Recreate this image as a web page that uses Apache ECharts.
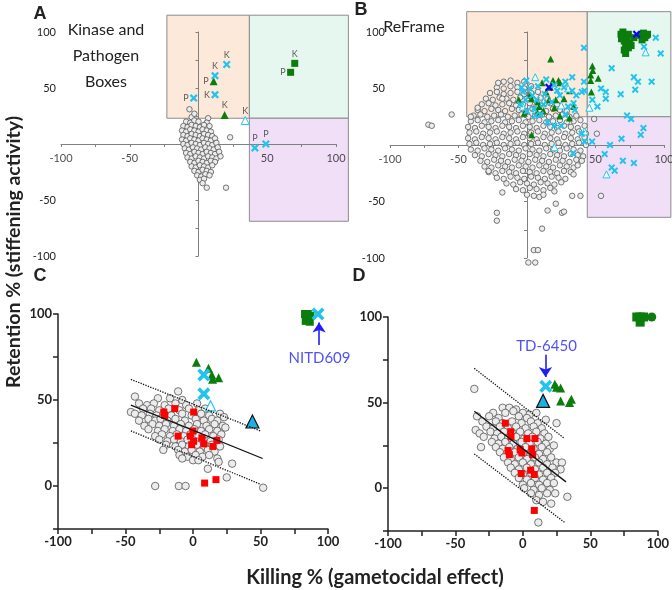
<!DOCTYPE html>
<html>
<head>
<meta charset="utf-8">
<script src="https://cdn.jsdelivr.net/npm/echarts@6/dist/echarts.min.js"></script>
<style>
  html, body { margin: 0; padding: 0; background: #fff; }
  #chart { width: 672px; height: 590px; }
</style>
</head>
<body>
<div id="chart"></div>
<script>
// ---------- data ----------
// x tick labels for the crossing axes of A and B (they sit on y = 0)
const crossTickX = [[-100, 0], [-50, 0], [50, 0], [100, 0]]

// panel A : Kinase and Pathogen Boxes
const aBoxOrange = [-23, 23, 37, 115]
const aBoxGreen = [37, 23, 109, 115]
const aBoxPurple = [37, -69, 109, 23]
const aGray = [
  [-6.6, 31], [-5, 24], [-3, 27], [7, 23],
  [-9, 20], [-6, 19], [-3, 21], [0, 20], [6, 19],
  [-11, 16], [-8, 15], [-5, 17], [-2, 16], [1, 15], [4, 17], [8, 16],
  [-12, 12], [-9, 11], [-6, 13], [-3, 12], [0, 11], [3, 13], [6, 12], [9, 11],
  [-11, 8], [-8, 7], [-5, 9], [-2, 8], [1, 7], [4, 9], [7, 8], [10, 7],
  [-12, 4], [-9, 3], [-6, 5], [-3, 4], [0, 3], [3, 5], [6, 4], [9, 3], [12, 5],
  [-11, 0], [-8, -1], [-5, 1], [-2, 0], [1, -1], [4, 1], [7, 0], [10, -1], [13, 1],
  [-10, -4], [-7, -5], [-4, -3], [-1, -4], [2, -5], [5, -3], [8, -4], [11, -5], [14, -3],
  [-9, -8], [-6, -9], [-3, -7], [0, -8], [3, -9], [6, -7], [9, -8], [12, -9], [15, -7],
  [-8, -12], [-5, -13], [-2, -11], [1, -12], [4, -13], [7, -11], [10, -12], [13, -13], [16, -11],
  [-6, -16], [-3, -17], [0, -15], [3, -16], [6, -17], [9, -15], [12, -16],
  [-5, -20], [-2, -21], [1, -19], [4, -20], [7, -21], [10, -19],
  [-3, -24], [0, -25], [3, -23], [6, -24], [9, -25],
  [-1, -28], [2, -29], [5, -27], [8, -28],
  [1, -32], [4, -31], [3, -35], [6, -39], [20, -39], [23, 6]
]
const aCyanX = [[20.5, 71], [12, 61], [12, 44], [-3.5, 41], [41, -3.5], [49, 0]]
const aGreenTri = [[11, 56], [19, 26]]
const aOpenTri = [[34, 21]]
const aGreenSq = [[70, 72], [67, 64]]
const aLabelTopK = [[20.5, 71], [12, 61], [70, 72], [19, 26], [34, 21]]
const aLabelLeftK = [[12, 44]]
const aLabelLeftP = [[-3.5, 41], [11, 56], [67, 64]]
const aLabelTopP = [[41, -3.5], [49, 0]]

// panel B : ReFrame
const bBoxOrange = [-44, 25, 44, 118]
const bBoxGreen = [44, 25, 105, 118]
const bBoxPurple = [44, -64, 105, 25]
const bGray = [
  [-17, 56], [-12, 57], [-7, 55], [-2, 56],
  [-22, 51], [-17, 50], [-12, 52], [-7, 51], [-2, 50], [3, 52],
  [-27, 46], [-22, 47], [-17, 45], [-12, 46], [-7, 47], [-2, 45], [3, 46], [8, 47],
  [-30, 41], [-25, 40], [-20, 42], [-15, 41], [-10, 40], [-5, 42], [0, 41], [5, 40], [10, 42], [15, 41],
  [-33, 36], [-28, 37], [-23, 35], [-18, 36], [-13, 37], [-8, 35], [-3, 36], [2, 37], [7, 35], [12, 36], [17, 37], [22, 36],
  [-36, 31], [-31, 30], [-26, 32], [-21, 31], [-16, 30], [-11, 32], [-6, 31], [-1, 30], [4, 32], [9, 31], [14, 30], [19, 32], [24, 31], [29, 30],
  [-39, 26], [-34, 27], [-29, 25], [-24, 26], [-19, 27], [-14, 25], [-9, 26], [-4, 27], [1, 25], [6, 26], [11, 27], [16, 25], [21, 26], [26, 27], [31, 25], [36, 26],
  [-41, 21], [-36, 22], [-31, 20], [-26, 21], [-21, 22], [-16, 20], [-11, 21], [-6, 22], [-1, 20], [4, 21], [9, 22], [14, 20], [19, 21], [24, 22], [29, 20], [34, 21], [39, 22],
  [-43, 16], [-38, 15], [-33, 17], [-28, 16], [-23, 15], [-18, 17], [-13, 16], [-8, 15], [-3, 17], [2, 16], [7, 15], [12, 17], [17, 16], [22, 15], [27, 17], [32, 16], [37, 15], [42, 17],
  [-42, 11], [-37, 12], [-32, 10], [-27, 11], [-22, 12], [-17, 10], [-12, 11], [-7, 12], [-2, 10], [3, 11], [8, 12], [13, 10], [18, 11], [23, 12], [28, 10], [33, 11], [38, 12], [43, 10],
  [-43, 6], [-38, 5], [-33, 7], [-28, 6], [-23, 5], [-18, 7], [-13, 6], [-8, 5], [-3, 7], [2, 6], [7, 5], [12, 7], [17, 6], [22, 5], [27, 7], [32, 6], [37, 5], [42, 7],
  [-42, 1], [-37, 2], [-32, 0], [-27, 1], [-22, 2], [-17, 0], [-12, 1], [-7, 2], [-2, 0], [3, 1], [8, 2], [13, 0], [18, 1], [23, 2], [28, 0], [33, 1], [38, 2], [43, 0],
  [-41, -4], [-36, -5], [-31, -3], [-26, -4], [-21, -5], [-16, -3], [-11, -4], [-6, -5], [-1, -3], [4, -4], [9, -5], [14, -3], [19, -4], [24, -5], [29, -3], [34, -4], [39, -5],
  [-38, -9], [-33, -10], [-28, -8], [-23, -9], [-18, -10], [-13, -8], [-8, -9], [-3, -10], [2, -8], [7, -9], [12, -10], [17, -8], [22, -9], [27, -10], [32, -8], [37, -9], [41, -10],
  [-34, -14], [-29, -15], [-24, -13], [-19, -14], [-14, -15], [-9, -13], [-4, -14], [1, -15], [6, -13], [11, -14], [16, -15], [21, -13], [26, -14], [31, -15], [36, -13], [40, -14],
  [-31, -19], [-26, -20], [-21, -18], [-16, -19], [-11, -20], [-6, -18], [-1, -19], [4, -20], [9, -18], [14, -19], [19, -20], [24, -18], [29, -19], [34, -20], [37, -18],
  [-28, -24], [-23, -25], [-18, -23], [-13, -24], [-8, -25], [-3, -23], [2, -24], [7, -25], [12, -23], [17, -24], [22, -25], [27, -23], [32, -24], [34, -26],
  [-22, -29], [-17, -30], [-12, -28], [-7, -29], [-2, -30], [3, -28], [8, -29], [13, -30], [18, -28], [23, -29], [28, -30],
  [-15, -34], [-10, -35], [-5, -33], [0, -34], [5, -35], [10, -33], [15, -34], [20, -35], [25, -33],
  [-8, -39], [-3, -40], [2, -38], [7, -39], [12, -40], [17, -38], [20, -41],
  [0, -44], [5, -45], [9, -46], [12, -44],
  // outliers
  [-55, 27], [-72, 18], [-69.5, 17], [-41, 25], [-36, 33], [-21, 55], [-18, 41], [-18, -42],
  [-22, -60], [-22, -67], [11, -74], [5, -93], [8, -93], [1, -104], [6, -104], [15, -58],
  [21, -52], [25.5, -60], [33, -45], [39, -45], [54, -45], [51, 10], [-28, -23], [49, 23], [27, -59]
]
const bCyanX = [
  [41.6, 86], [94, 95], [97.6, 81], [85.4, 87], [61.8, 68], [78, 60], [81, 56], [91, 56], [79, 49],
  [68.4, 45], [57.5, 47], [57.5, 41], [54, 50], [51.4, 34], [47.7, 40], [41.6, 56], [33, 60], [28, 56],
  [73, 26], [76, 23], [85, 15], [83, 9], [69, 5.6], [60.6, 0], [56.7, -8], [70, -14], [78, -16],
  [61.8, -20], [64, -22.7], [40, 10], [42, 3], [47.5, 3], [33.6, -7.4],
  [42, 48], [40, 47], [27, 51], [33, 48], [35, 31], [34, 37], [8, 52], [14, 58], [-0.5, 57],
  [-4, 51], [-3, 47], [-5, 36], [0, 30], [6, 26], [10, 27], [20, 17], [25, 17], [15, 20], [12, 36],
  [18, 38], [22, 48], [4, 44], [7, 40], [28, 27], [30, 34], [13, 45], [-1, 40], [2, 50], [5, 32],
  [36, 44], [20, 53], [24, 44]
]
const bGreenTri = [
  [17.3, 76], [19, 57], [23, 57], [24, 55], [17, 51], [14, 47], [2, 44], [-2, 28], [3.4, 41],
  [8, 38], [16, 40], [21, 40], [27, 41], [31, 48], [34, 34], [31, 24], [24, 25.6], [7.6, 29],
  [3.4, 9], [47.7, 70], [48, 66], [46.5, 62], [52, 59], [46.5, 57], [47, 47], [11, 55], [-6, 40],
  [9, 34], [12, 30], [20, 33]
]
const bOpenTri = [[6, 60], [86.6, 82], [58, -26], [20, -2], [45.5, 33], [25, 35], [12, 38], [30, 50], [-3, 34], [42, 12]]
const bGreenSq = [
  [68.6, 98], [70, 100], [72, 97], [74, 98], [69, 94], [71, 92], [73, 94], [75, 90], [72, 88],
  [74, 86], [71, 84], [76, 88], [83, 97], [85, 99], [87, 97], [88, 98], [86, 95], [84, 93], [78, 95], [72, 81]
]
const bBlueX = [[80, 98], [16, 51]]

// panel C
const cGray = [
  [-11, 55], [-43, 52], [-26, 51], [-17, 51], [-8, 50],
  [-40, 48], [-34, 47], [-29, 48], [-21, 47], [-13, 48], [-5, 47], [3, 48],
  [-46, 43], [-37, 45], [-31, 45], [-25, 44], [-18, 45], [-10, 44], [-3, 45], [4, 44], [9, 45],
  [-43, 42], [-38, 41], [-32, 42], [-27, 41], [-22, 42], [-16, 41], [-8, 42], [-1, 41], [6, 42], [12, 41], [20, 42],
  [-40, 38], [-33, 39], [-28, 38], [-24, 39], [-19, 38], [-13, 39], [-6, 38], [2, 39], [8, 38], [14, 39], [18, 38], [23, 40],
  [-36, 35], [-30, 36], [-25, 35], [-20, 36], [-14, 35], [-9, 36], [-3, 35], [3, 36], [10, 35], [16, 36], [22, 35],
  [-33, 33], [-26, 32], [-21, 33], [-15, 32], [-10, 33], [-5, 32], [1, 33], [6, 32], [12, 33], [18, 32], [24, 34],
  [-28, 29], [-23, 30], [-17, 29], [-12, 30], [-7, 29], [-2, 30], [4, 29], [9, 30], [15, 29], [21, 30],
  [-25, 27], [-19, 26], [-14, 27], [-9, 26], [-4, 27], [2, 26], [7, 27], [13, 26], [19, 27],
  [-20, 24], [-13, 23], [-8, 24], [-3, 23], [3, 24], [8, 23], [14, 24], [20, 23],
  [-22, 21], [-11, 21], [-6, 20], [-1, 21], [5, 20], [11, 21], [16, 20],
  [-10, 18], [-4, 17], [2, 18], [7, 17], [12, 18],
  [-8, 16], [0, 15], [4, 15], [18, 16], [19, 14],
  [29, 13], [11, 10], [25, 5],
  [-28, 0], [-10.5, 0], [-5.5, 0], [52, -1]
]
const cRed = [
  [-21.6, 43], [-21, 41], [-13.5, 45], [0.5, 43], [-11, 29], [-2, 29], [0, 32], [-1, 24],
  [6.6, 28], [8, 24.5], [14.7, 23], [17.7, 26.5], [8.6, 1.7], [17, 3.7], [0.5, 26]
]
const cGreenTri = [[2.5, 72], [11.5, 68.5], [14, 64.5], [14.5, 62], [19, 63]]
const cCyanX = [[8, 64.6], [8, 53.6], [92.6, 100]]
const cOpenTri = [[13, 46.6]]
const cBlueTri = [[44, 37.5]]
const cGreenSq = [[83, 100], [85, 97.5], [86.5, 95.5], [83.5, 96], [85, 100], [87, 99]]
const cFit = [[-46, 47], [51.6, 16]]
const cFitUpper = [[-46, 62], [50, 32]]
const cFitLower = [[-46, 32], [50, 1]]
const cArrow = [[93.4, 82], [93.4, 95]]
const cNote = [93.7, 74.4]

// panel D
const dGray = [
  [-36, 58],
  [-15, 47], [-10, 47], [-5, 46],
  [-22, 44], [-13, 44], [-7, 45], [0, 44], [5, 43], [10, 44],
  [-34, 42], [-25, 42], [-18, 41], [-3, 42], [3, 41], [17, 40],
  [-30, 39], [-20, 39], [-15, 38], [-8, 39], [-1, 38], [6, 39], [11, 38],
  [-35, 34], [-27, 36], [-22, 35], [-17, 36], [-11, 35], [-5, 36], [2, 35], [8, 36], [14, 35], [25, 38],
  [-32, 32], [-24, 33], [-19, 32], [-14, 33], [-8, 32], [-2, 33], [4, 32], [10, 33], [16, 32],
  [-29, 30], [-21, 29], [-16, 30], [-11, 29], [-5, 30], [1, 29], [7, 30], [13, 29], [19, 30],
  [-23, 27], [-18, 26], [-13, 27], [-7, 26], [-1, 27], [5, 26], [11, 27], [17, 26],
  [-31, 24], [-20, 24], [-15, 23], [-10, 24], [-4, 23], [2, 24], [8, 23], [14, 24], [20, 23], [23, 25],
  [-17, 21], [-12, 20], [-6, 21], [0, 20], [6, 21], [12, 20], [18, 21],
  [-14, 18], [-9, 17], [-3, 18], [3, 17], [9, 18], [15, 17], [21, 18],
  [-11, 15], [-6, 14], [0, 15], [6, 14], [12, 15], [18, 14], [25, 15], [29, 15],
  [-9, 12], [-3, 11], [3, 12], [9, 11], [15, 12], [22, 12], [28, 11],
  [-6, 9], [0, 8], [6, 9], [12, 8], [18, 9], [24, 9],
  [-3, 6], [3, 5], [9, 6], [15, 5], [21, 6],
  [0, 2], [6, 3], [12, 2], [18, 3], [23, 3],
  [1, 0], [8, -1], [14, 0], [20, -1],
  [6, -3], [12, -4], [18, -3], [24, -3],
  [33, -5], [10, -7], [15, -8], [21, -9], [11.5, -20]
]
const dRed = [
  [-13, 38], [-9, 33], [-8.8, 30], [3, 29], [9, 29], [-11, 22], [-10, 19.6], [-2, 22.6],
  [-0.7, 20.6], [6.6, 23], [7.3, 19.6], [-1.2, 8.6], [5.8, 10.5], [8.5, 8], [8.5, -13]
]
const dGreenTri = [[23.7, 60.7], [28, 58.6], [28, 51], [34.6, 50], [36, 52], [25, 59]]
const dCyanX = [[17, 59.5]]
const dBlueTri = [[15, 51]]
const dGreenSq = [[84.5, 100], [87, 100], [89.5, 100], [87, 97]]
const dGreenDot = [[95.6, 100]]
const dFit = [[-36, 45], [32, 3.7]]
const dFitUpper = [[-36, 70], [31, 29]]
const dFitLower = [[-36, 20], [31, -20]]
const dArrow = [[16.8, 78], [16.8, 65]]
const dNote = [17.6, 83]

// ---------- style ----------
const FONT = 'Lato, "Liberation Sans", sans-serif'
const CYAN = '#22c4ef'
const GREEN = '#0c7c0c'
const XPATH = 'path://M2,0 L5,3 L8,0 L10,2 L7,5 L10,8 L8,10 L5,7 L2,10 L0,8 L3,5 L0,2 Z'

// 四個面板的網格
const grids = [
  { left: 61, top: 32, width: 275, height: 224 },
  { left: 390, top: 32, width: 274, height: 226 },
  { left: 58, top: 314, width: 270, height: 215 },
  { left: 388, top: 317, width: 272, height: 214 }
]

// A/B : axes crossing at origin
function crossAxes(i) {
  const line = { color: '#808080', width: 1 }
  const common = {
    gridIndex: i, type: 'value', min: -100, max: 100, interval: 25, z: 3,
    axisLine: { onZero: true, lineStyle: line },
    axisTick: { length: 3, lineStyle: line },
    splitLine: { show: false },
    axisLabel: {
      fontFamily: FONT, fontSize: 11, color: '#222', margin: 5,
      formatter: v => (v % 50 === 0 && v !== 0 ? String(v) : '')
    }
  }
  const x = Object.assign({}, common, { axisLabel: { show: false } })
  return { x: x, y: Object.assign({}, common) }
}

// C/D : plain frame axes
function boxAxes(i) {
  const line = { color: '#222', width: 1.5 }
  const label = {
    fontFamily: FONT, fontSize: 13, fontWeight: 'bold', color: '#222', margin: 6,
    formatter: v => (v % 50 === 0 ? String(v) : '')
  }
  return {
    x: { gridIndex: i, type: 'value', min: -100, max: 100, interval: 25, z: 3,
      axisLine: { onZero: false, lineStyle: line }, axisTick: { length: 5, lineStyle: line },
      splitLine: { show: false }, axisLabel: label },
    y: { gridIndex: i, type: 'value', min: -25, max: 100, interval: 25, z: 3,
      axisLine: { onZero: false, lineStyle: line }, axisTick: { length: 5, lineStyle: line },
      splitLine: { show: false }, axisLabel: label }
  }
}

const axA = crossAxes(0)
const axB = crossAxes(1)
const axC = boxAxes(2)
const axD = boxAxes(3)

// 背景色塊
function box(i, rect, fill) {
  return {
    type: 'custom', xAxisIndex: i, yAxisIndex: i, clip: false, z: 1, silent: true,
    data: [rect],
    renderItem(params, api) {
      const p1 = api.coord([api.value(0), api.value(1)])
      const p2 = api.coord([api.value(2), api.value(3)])
      return {
        type: 'rect',
        shape: { x: p1[0], y: p2[1], width: p2[0] - p1[0], height: p1[1] - p2[1] },
        style: { fill: fill, stroke: '#8c8c8c', lineWidth: 1 }
      }
    }
  }
}

function dots(i, data, symbol, size, color, border, borderWidth, z) {
  return {
    type: 'scatter', xAxisIndex: i, yAxisIndex: i, clip: false, z: z || 4,
    symbol: symbol, symbolSize: size, data: data, silent: true,
    itemStyle: { color: color, borderColor: border || color, borderWidth: borderWidth || 0, opacity: 1 }
  }
}

function gray(i, data, size) {
  return dots(i, data, 'circle', size, '#ececec', '#555', 0.8, 4)
}

function line(i, data, type) {
  return {
    type: 'line', xAxisIndex: i, yAxisIndex: i, data: data, symbol: 'none', z: 5, silent: true,
    lineStyle: { color: '#111', width: 1.3, type: type || 'solid' }
  }
}

function letters(i, data, text, position) {
  return {
    type: 'scatter', xAxisIndex: i, yAxisIndex: i, data: data, symbolSize: 8, z: 6, silent: true,
    itemStyle: { color: 'transparent' },
    label: { show: true, formatter: text, position: position, distance: 1,
      fontFamily: FONT, fontSize: 9, color: '#333' }
  }
}

// x 軸刻度文字（A/B 的軸在 y = 0 上）
function tickLabels(i, data) {
  return {
    type: 'scatter', xAxisIndex: i, yAxisIndex: i, data: data, symbolSize: 1, z: 6, silent: true,
    itemStyle: { color: 'transparent' },
    label: { show: true, formatter: p => String(p.value[0]), position: 'bottom', distance: 8,
      fontFamily: FONT, fontSize: 11, color: '#222' }
  }
}

function arrow(i, pts, note, text) {
  return {
    type: 'scatter', xAxisIndex: i, yAxisIndex: i, data: [note], symbolSize: 1, z: 6, silent: true,
    itemStyle: { color: 'transparent' },
    label: { show: true, formatter: text, position: 'inside', fontFamily: FONT, fontSize: 15, color: '#2626ee' },
    markLine: {
      silent: true, symbol: ['none', 'arrow'], symbolSize: 10, animation: false, z: 7,
      label: { show: false },
      lineStyle: { color: '#1f1ff5', width: 1.6, type: 'solid' },
      data: [[{ coord: pts[0] }, { coord: pts[1] }]]
    }
  }
}

const series = [
  // A
  box(0, aBoxOrange, '#fde9d9'), box(0, aBoxGreen, '#e6f7ef'), box(0, aBoxPurple, '#f1dff8'),
  tickLabels(0, crossTickX),
  gray(0, aGray, 5.5),
  dots(0, aGreenSq, 'rect', 7, GREEN),
  dots(0, aGreenTri, 'triangle', 8, GREEN),
  dots(0, aOpenTri, 'triangle', 8, '#fff', CYAN, 1),
  dots(0, aCyanX, XPATH, 8, CYAN),
  letters(0, aLabelTopK, 'K', 'top'), letters(0, aLabelLeftK, 'K', 'left'),
  letters(0, aLabelLeftP, 'P', 'left'), letters(0, aLabelTopP, 'P', 'top'),
  // B
  box(1, bBoxOrange, '#fde9d9'), box(1, bBoxGreen, '#e6f7ef'), box(1, bBoxPurple, '#f1dff8'),
  tickLabels(1, crossTickX),
  gray(1, bGray, 5.5),
  dots(1, bGreenSq, 'rect', 7, GREEN),
  dots(1, bGreenTri, 'triangle', 7, GREEN),
  dots(1, bOpenTri, 'triangle', 7, '#fff', CYAN, 1),
  dots(1, bCyanX, XPATH, 7, CYAN),
  dots(1, bBlueX, XPATH, 8, '#0a0af0'),
  // C
  gray(2, cGray, 7.5),
  line(2, cFit), line(2, cFitUpper, 'dotted'), line(2, cFitLower, 'dotted'),
  dots(2, cRed, 'rect', 7, '#ff0000'),
  dots(2, cGreenTri, 'triangle', 9, GREEN),
  dots(2, cOpenTri, 'triangle', 10, '#fff', CYAN, 1.2),
  dots(2, cBlueTri, 'triangle', 13, '#1ab2e2', '#111', 1.2),
  dots(2, cGreenSq, 'rect', 8, GREEN),
  dots(2, cCyanX, XPATH, 13, CYAN),
  arrow(2, cArrow, cNote, 'NITD609'),
  // D
  gray(3, dGray, 7.5),
  line(3, dFit), line(3, dFitUpper, 'dotted'), line(3, dFitLower, 'dotted'),
  dots(3, dRed, 'rect', 7, '#ff0000'),
  dots(3, dGreenTri, 'triangle', 9, GREEN),
  dots(3, dBlueTri, 'triangle', 13, '#1ab2e2', '#111', 1.2),
  dots(3, dGreenSq, 'rect', 9, GREEN),
  dots(3, dGreenDot, 'circle', 9, GREEN),
  dots(3, dCyanX, XPATH, 13, CYAN),
  arrow(3, dArrow, dNote, 'TD-6450')
]

function txt(x, y, text, font, extra) {
  return Object.assign({
    type: 'text', x: x, y: y, silent: true, z: 10,
    style: { text: text, font: font, fill: '#222', textAlign: 'center', align: 'center',
      textVerticalAlign: 'middle', verticalAlign: 'middle', lineHeight: 26 }
  }, extra || {})
}

const chart = echarts.init(document.getElementById('chart'), null, { renderer: 'canvas' })
chart.setOption({
  animation: false,
  backgroundColor: '#fff',
  grid: grids,
  xAxis: [axA.x, axB.x, axC.x, axD.x],
  yAxis: [axA.y, axB.y, axC.y, axD.y],
  series: series,
  graphic: [
    txt(40, 14, 'A', 'bold 18px "Liberation Sans", Arial, sans-serif'),
    txt(361, 10, 'B', 'bold 18px "Liberation Sans", Arial, sans-serif'),
    txt(40, 276, 'C', 'bold 18px "Liberation Sans", Arial, sans-serif'),
    txt(359, 276, 'D', 'bold 18px "Liberation Sans", Arial, sans-serif'),
    txt(106, 56, 'Kinase and\nPathogen\nBoxes', '16px ' + FONT),
    txt(414, 27, 'ReFrame', '16px ' + FONT),
    txt(14, 252, 'Retention % (stiffening activity)', 'bold 19.5px ' + FONT, { rotation: Math.PI / 2 }),
    txt(375, 578, 'Killing % (gametocidal effect)', 'bold 20px ' + FONT)
  ]
})
</script>
</body>
</html>
